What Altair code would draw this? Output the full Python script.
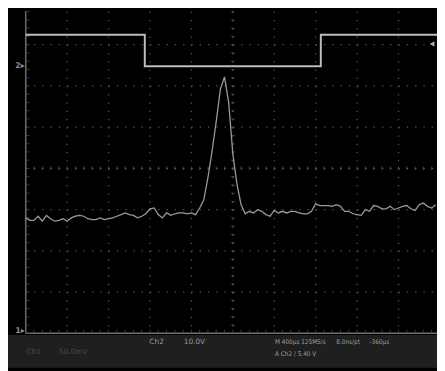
import altair as alt
import pandas as pd

# ---- instrument settings ----
TIME_PER_DIV_US = 400      # M 400 µs
CH1_MV_PER_DIV = 50        # Ch1 50.0 mV
CH2_V_PER_DIV = 10         # Ch2 10.0 V
CH2_GROUND_DIV = 2.48      # position of the "2" ground marker (divisions above centre)
TRIG_LEVEL_V = 5.4

# visible window (time in µs, vertical in divisions)
X_DOMAIN = [-2171, 1972]
Y_DOMAIN = [-4.833, 3.81]

# ---- Ch1 : pulse on a noisy baseline (mV, relative to screen centre) ----
ch1_time_us = [
    -2000, -1960, -1920, -1880, -1840, -1800, -1760, -1720, -1680, -1640,
    -1600, -1560, -1520, -1480, -1440, -1400, -1360, -1320, -1280, -1240,
    -1200, -1160, -1120, -1080, -1040, -1000, -960, -920, -880, -840,
    -800, -760, -720, -680, -640, -600, -560, -520, -480, -440,
    -400, -360, -320, -280, -240, -200, -160, -120, -80, -40,
    0, 40, 80, 120, 160, 200, 240, 280, 320, 360,
    400, 440, 480, 520, 560, 600, 640, 680, 720, 760,
    800, 840, 880, 920, 960, 1000, 1040, 1080, 1120, 1160,
    1200, 1240, 1280, 1320, 1360, 1400, 1440, 1480, 1520, 1560,
    1600, 1640, 1680, 1720, 1760, 1800, 1840, 1880, 1920, 1960,
]
ch1_mv = [
    -60, -63, -63, -58, -64, -57, -61, -64, -63, -61,
    -64, -60, -58, -57, -58, -61, -62, -62, -60, -62,
    -61, -60, -58, -56, -54, -56, -57, -60, -58, -55,
    -49, -48, -56, -60, -54, -57, -55, -54, -54, -55,
    -54, -56, -48, -38, -11, 21, 57, 96, 111, 80,
    18, -19, -44, -55, -52, -54, -50, -52, -56, -58,
    -51, -54, -52, -54, -52, -52, -54, -55, -55, -52,
    -43, -45, -45, -45, -46, -44, -46, -52, -52, -55,
    -56, -57, -50, -52, -45, -46, -49, -49, -46, -50,
    -48, -46, -45, -49, -51, -44, -42, -46, -48, -44,
]

# ---- Ch2 : gate square wave (V) ----
ch2_time_us = [-2000, -850, -850, 850, 850, 1972]
ch2_volts = [7.6, 7.6, 0.0, 0.0, 7.6, 7.6]

# ---- graticule ----
vgrid_us = [-1600, -1200, -800, -400, 400, 800, 1200, 1600]
hgrid_div = [-3, -2, -1, 1, 2, 3]
minor_us = [-2000 + 80 * k for k in range(50)]
minor_div = [round(-4 + 0.2 * k, 2) for k in range(40)]

# ---- status bar text ----
left_labels = ["Ch1", "50.0mV", "Ch2", "10.0V"]
left_t = [-1991, -1678, -806, -474]
left_y = [-4.45, -4.45, -4.22, -4.22]
left_color = ["#4a4a4a", "#4a4a4a", "#9c9c9c", "#9c9c9c"]

right_labels = ["M 400µs 125MS/s", "8.0ns/pt", "-360µs", "A  Ch2  ∕  5.40 V"]
right_t = [408, 1000, 1320, 408]
right_y = [-4.22, -4.22, -4.22, -4.5]

xs = alt.Scale(domain=X_DOMAIN, nice=False, zero=False)
ys = alt.Scale(domain=Y_DOMAIN, nice=False, zero=False)


def X(f):
    return alt.X(f, type="quantitative", scale=xs, axis=None)


def Y(f):
    return alt.Y(f, type="quantitative", scale=ys, axis=None)


GRID = "#545454"

status_bar = alt.Chart(pd.DataFrame({"a": [X_DOMAIN[0]], "b": [X_DOMAIN[1]],
                                     "c": [Y_DOMAIN[0]], "d": [-4.04]})).mark_rect(
    color="#1f1f1f").encode(x=X("a"), x2="b", y=Y("c"), y2="d")

vgrid = alt.Chart(pd.DataFrame({"t": vgrid_us, "y1": 3.8, "y2": -4})).mark_rule(
    color=GRID, strokeWidth=1.3, strokeDash=[1.3, 7.1]).encode(x=X("t"), y=Y("y1"), y2="y2")

hgrid = alt.Chart(pd.DataFrame({"v": hgrid_div, "x1": -2000, "x2": X_DOMAIN[1]})).mark_rule(
    color=GRID, strokeWidth=1.3, strokeDash=[1.3, 7.14]).encode(y=Y("v"), x=X("x1"), x2="x2")

centre = alt.Chart(pd.DataFrame({"t": [0], "y1": 3.8, "y2": -4})).mark_rule(
    color="#6a6a6a", strokeWidth=1.3, strokeDash=[1.3, 7.1]).encode(x=X("t"), y=Y("y1"), y2="y2")
centre_h = alt.Chart(pd.DataFrame({"v": [0], "x1": -2000, "x2": X_DOMAIN[1]})).mark_rule(
    color="#6a6a6a", strokeWidth=1.3, strokeDash=[1.3, 7.14]).encode(y=Y("v"), x=X("x1"), x2="x2")

ticks_h = alt.Chart(pd.DataFrame({"t": minor_us, "v": 0})).mark_tick(
    orient="vertical", size=4, thickness=1, color="#555555").encode(x=X("t"), y=Y("v"))
ticks_v = alt.Chart(pd.DataFrame({"t": 0, "v": minor_div})).mark_tick(
    orient="horizontal", size=4, thickness=1, color="#555555").encode(x=X("t"), y=Y("v"))

frame_l = alt.Chart(pd.DataFrame({"t": [-2000], "y1": 3.81, "y2": -4})).mark_rule(
    color="#6e6e6e", strokeWidth=1.5).encode(x=X("t"), y=Y("y1"), y2="y2")
frame_b = alt.Chart(pd.DataFrame({"v": [-4], "x1": -2000, "x2": X_DOMAIN[1]})).mark_rule(
    color="#6e6e6e", strokeWidth=1.5).encode(y=Y("v"), x=X("x1"), x2="x2")
fticks_l = alt.Chart(pd.DataFrame({"t": -2000, "v": minor_div})).mark_tick(
    orient="horizontal", size=4, thickness=1, color="#4e4e4e", xOffset=2).encode(x=X("t"), y=Y("v"))
fticks_b = alt.Chart(pd.DataFrame({"t": minor_us, "v": -4})).mark_tick(
    orient="vertical", size=4, thickness=1, color="#4e4e4e", yOffset=-2).encode(x=X("t"), y=Y("v"))

ch2 = alt.Chart(pd.DataFrame({"t": ch2_time_us, "v": ch2_volts, "i": range(len(ch2_volts))})
                ).transform_calculate(
    d=f"datum.v / {CH2_V_PER_DIV} + {CH2_GROUND_DIV}").mark_line(
    color="#bdbdbd", strokeWidth=2).encode(x=X("t"), y=Y("d"), order="i:Q")

ch1 = alt.Chart(pd.DataFrame({"t": ch1_time_us, "mv": ch1_mv})).transform_calculate(
    d=f"datum.mv / {CH1_MV_PER_DIV}").mark_line(
    color="#999999", strokeWidth=1.3).encode(x=X("t"), y=Y("d"))

markers = alt.Chart(pd.DataFrame({"t": [-2010, -2010], "v": [CH2_GROUND_DIV, -3.95],
                                  "label": ["2▸", "1▸"]})).mark_text(
    align="right", baseline="middle", font="DejaVu Sans", fontSize=8, fontWeight="bold",
    color="#8e8e8e").encode(x=X("t"), y=Y("v"), text="label:N")

trig = alt.Chart(pd.DataFrame({"t": [1924], "lv": [TRIG_LEVEL_V]})).transform_calculate(
    d=f"datum.lv / {CH2_V_PER_DIV} + {CH2_GROUND_DIV}").mark_point(
    shape="triangle-left", filled=True, size=30, color="#b0b0b0", opacity=1).encode(
    x=X("t"), y=Y("d"))

status_left = alt.Chart(pd.DataFrame({"t": left_t, "v": left_y, "label": left_labels,
                                      "c": left_color})).mark_text(
    align="left", baseline="middle", font="DejaVu Sans", fontSize=7.5).encode(
    x=X("t"), y=Y("v"), text="label:N", color=alt.Color("c:N", scale=None))

status_right = alt.Chart(pd.DataFrame({"t": right_t, "v": right_y, "label": right_labels})
                         ).mark_text(
    align="left", baseline="middle", font="DejaVu Sans Condensed, Liberation Sans Narrow, DejaVu Sans",
    fontSize=6.5, color="#9c9c9c").encode(x=X("t"), y=Y("v"), text="label:N")

chart = alt.layer(
    status_bar, vgrid, hgrid, centre, centre_h, ticks_h, ticks_v,
    frame_l, frame_b, fticks_l, fticks_b, ch2, ch1, markers, trig, status_left, status_right,
).properties(
    width=437, height=363, background="#000000", padding=0, autosize="none",
).configure_view(strokeWidth=0)

chart.save("out.html", embed_options={"renderer": "svg", "actions": False})
